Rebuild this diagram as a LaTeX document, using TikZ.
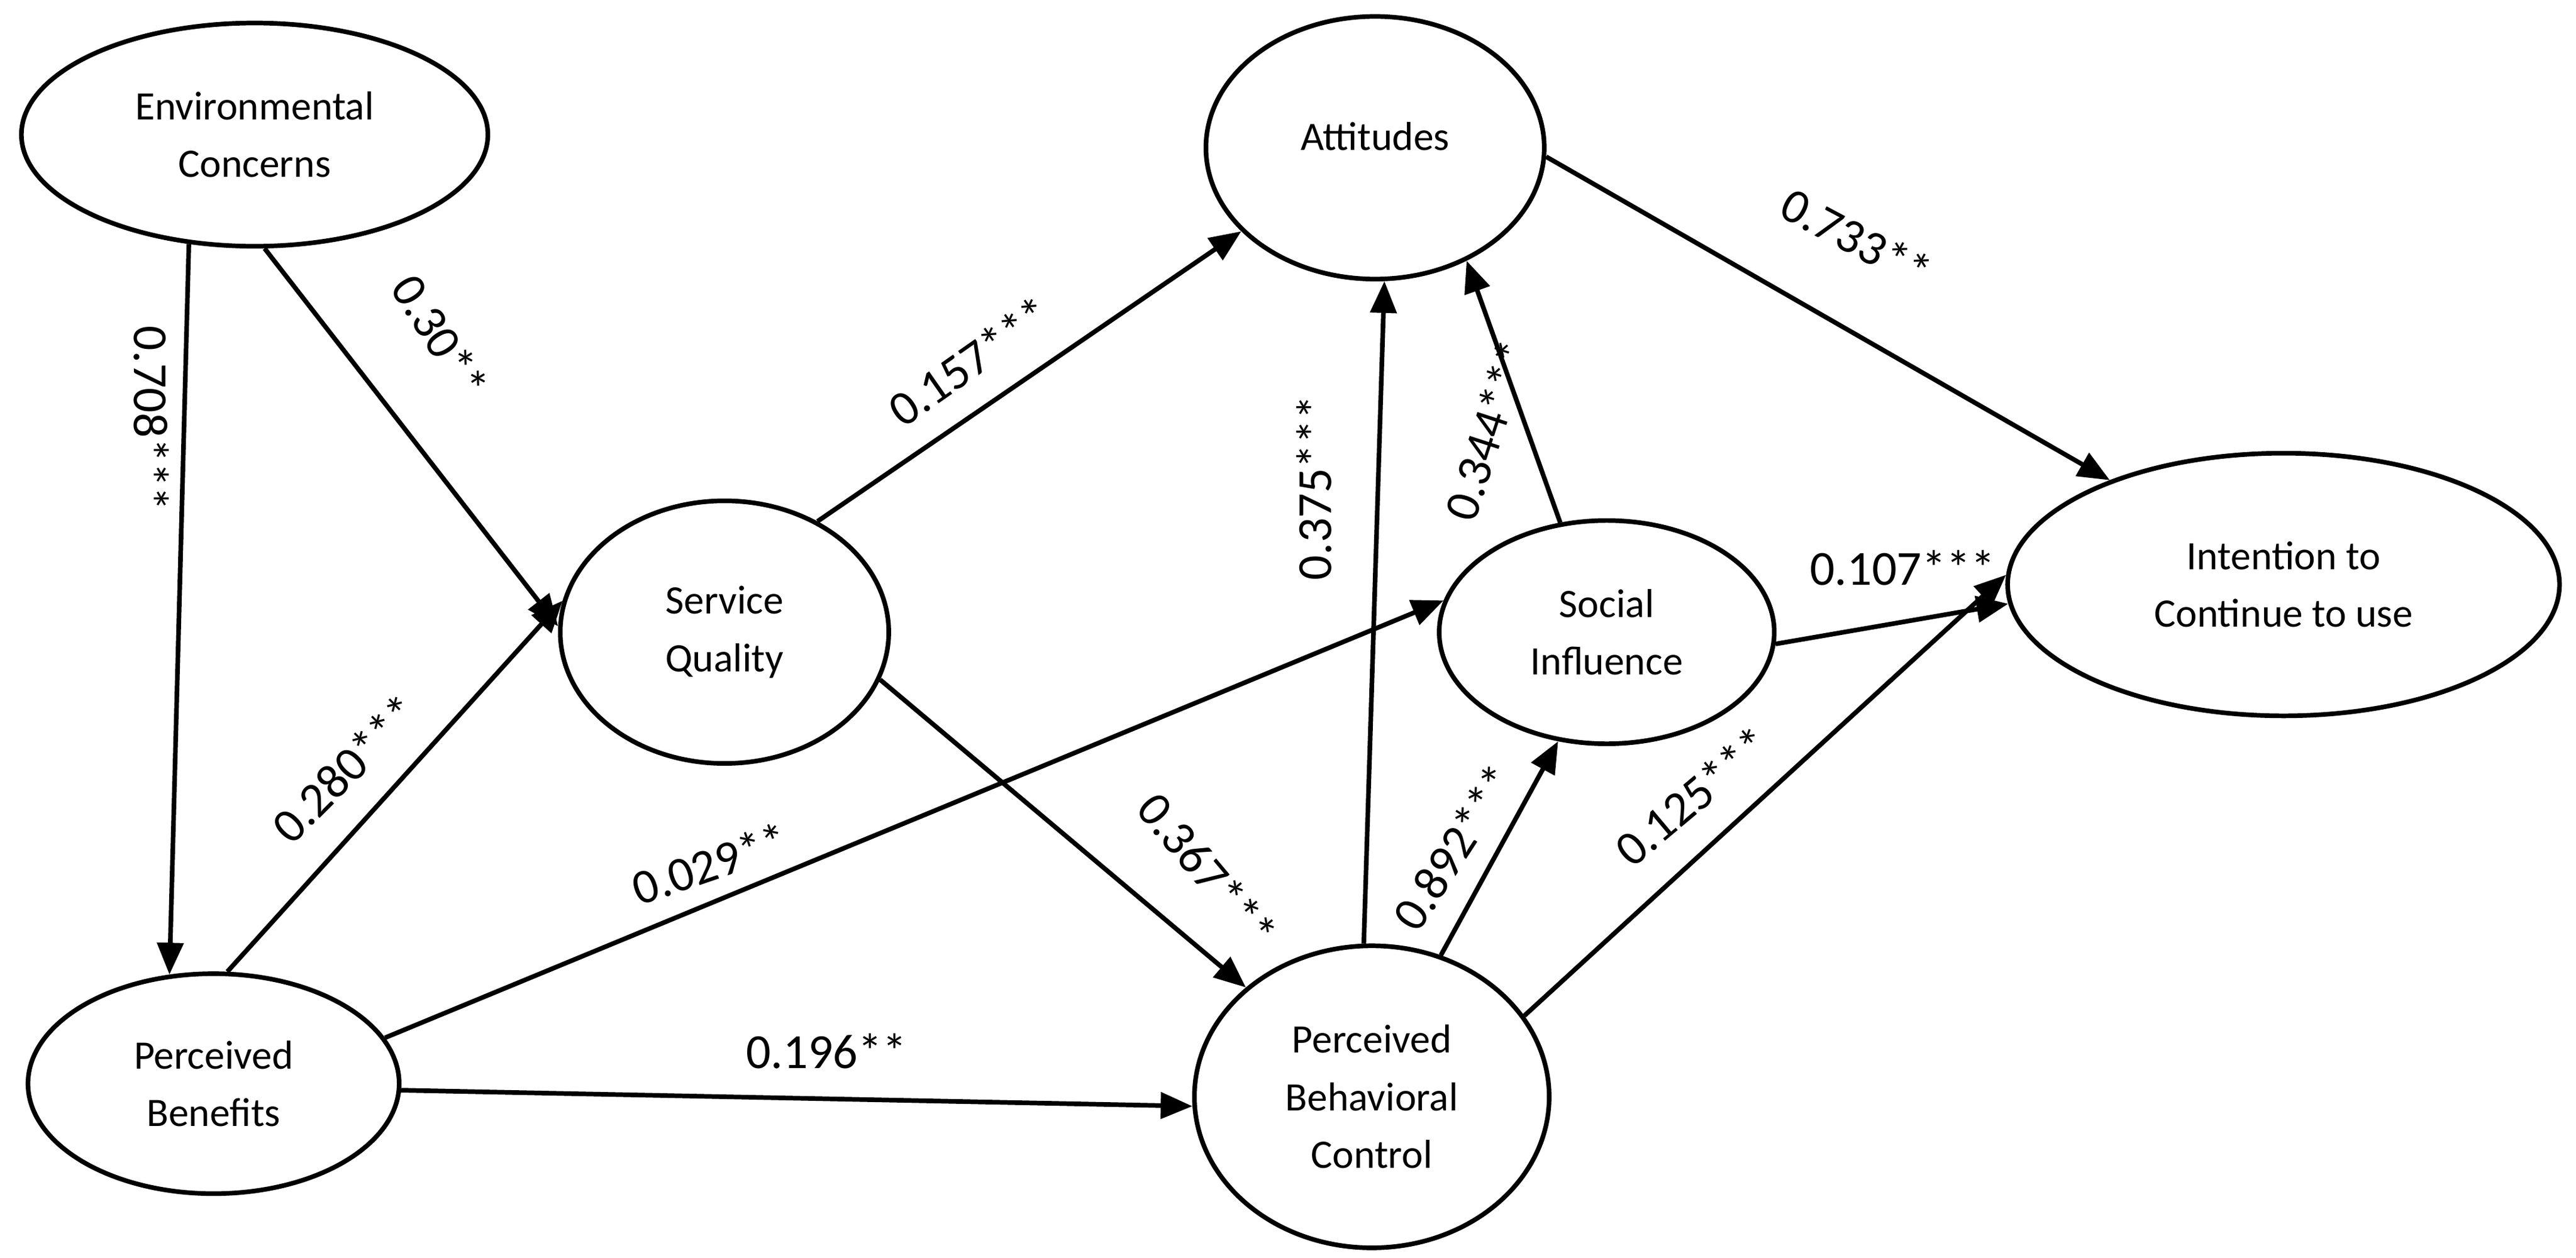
\documentclass[tikz,border=0pt]{standalone}
\usepackage{fontspec}
\setmainfont{Carlito}
\usetikzlibrary{shapes.geometric,arrows.meta}
\begin{document}
\begin{tikzpicture}[x=0.02cm,y=-0.02cm,
  el/.style={ellipse,draw,line width=1.6pt,inner sep=0pt,align=center,font=\fontsize{14}{20}\selectfont},
  ar/.style={-{Triangle[length=11pt,width=9pt]},line width=1.6pt},
  lb/.style={font=\fontsize{17}{20}\selectfont}]
\useasboundingbox (0,0) rectangle (1568,766);
\node[el,minimum width=5.68cm,minimum height=2.72cm] (ec) at (155,82) {Environmental\\Concerns};
\node[el,minimum width=4.12cm,minimum height=3.2cm] (at) at (837,90) {};
\node[font=\fontsize{14}{20}\selectfont] (att) at (837,83) {Attitudes};
\node[el,minimum width=4.0cm,minimum height=3.2cm] (sq) at (441,385) {Service\\Quality};
\node[el,minimum width=4.08cm,minimum height=2.72cm] (si) at (978,385) {Social\\Influence};
\node[el,minimum width=6.72cm,minimum height=3.2cm] (in) at (1390,356) {Intention to\\Continue to use};
\node[el,minimum width=4.52cm,minimum height=2.68cm] (pb) at (130,660) {Perceived\\Benefits};
\node[el,minimum width=4.32cm,minimum height=3.68cm] (pbc) at (835,668) {Perceived\\Behavioral\\Control};

\draw[ar] (ec.-121) -- (pb.112);
\draw[ar] (ec.-85) -- (sq.178);
\draw[ar] (sq.50) -- (at.-148);
\draw[ar] (pb.83) -- (sq.169);
\draw[ar] (pb.15) -- (si.169);
\draw[ar] (pb.-2) -- (pbc.-177);
\draw[ar] (sq.-17) -- (pbc.139);
\draw[ar] (pbc.93) -- (at.-86);
\draw[ar] (si.113) -- (at.-51);
\draw[ar] (pbc.64) -- (si.-114);
\draw[ar] (pbc.28) -- (in.178);
\draw[ar] (si.-4) -- (in.-176);
\draw[ar] (at.-3) -- (in.149);

\node[lb,rotate=-90] (l1) at (92,255) {0.708***};
\node[lb,rotate=-58] (l2) at (268,205) {0.30**};
\node[lb,rotate=35] (l3) at (590,220) {0.157***};
\node[lb,rotate=45] (l4) at (210,468) {0.280***};
\node[lb,rotate=19] (l5) at (432,526) {0.029**};
\node[lb] (l6) at (503,640) {0.196**};
\node[lb,rotate=-50] (l7) at (735,530) {0.367***};
\node[lb,rotate=90] (l8) at (800,297) {0.375***};
\node[lb,rotate=72] (l9) at (905,262) {0.344***};
\node[lb,rotate=57] (l10) at (885,516) {0.892***};
\node[lb,rotate=40] (l11) at (1030,485) {0.125***};
\node[lb] (l12) at (1158,346) {0.107***};
\node[lb,rotate=-28] (l13) at (1130,145) {0.733**};
\end{tikzpicture}
\end{document}
